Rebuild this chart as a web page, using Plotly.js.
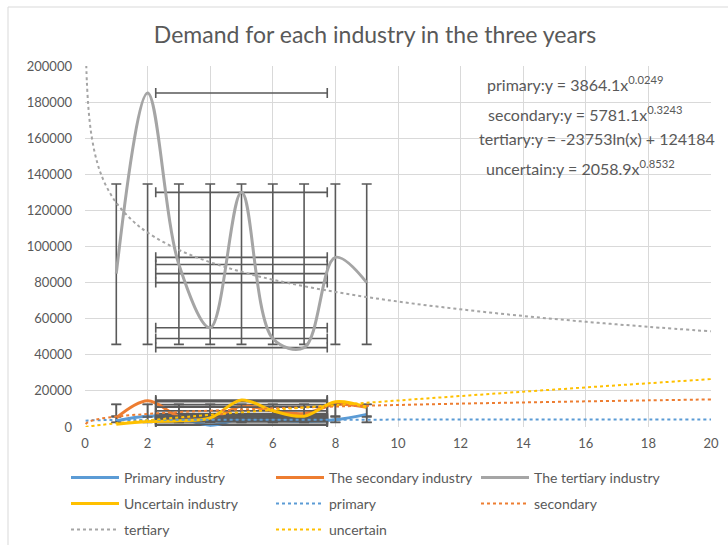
<!DOCTYPE html>
<html>
<head>
<meta charset="utf-8">
<script src="https://cdn.plot.ly/plotly-3.0.1.min.js"></script>
<style>html,body{margin:0;padding:0;background:#fff;}#chart{width:728px;height:545px;}</style>
</head>
<body>
<div id="chart"></div>
<script>
// ---- data ----
const xs = [1, 2, 3, 4, 5, 6, 7, 8, 9];
const primaryVals   = [3500, 6000, 5000, 1000, 4500, 4000, 3000, 4000, 7000];
const secondaryVals = [5000, 14500, 6000, 4500, 11500, 9000, 7500, 12500, 11000];
const tertiaryVals  = [85000, 185000, 90000, 55000, 130000, 49000, 44000, 94000, 80000];
const uncertainVals = [1500, 3000, 3500, 5000, 15000, 9000, 6000, 14000, 11000];

// error-bar extents (low, high)
const errXRange = [2.26, 7.74];
const primaryErrY   = [2500, 6000];
const secondaryErrY = [5500, 12600];
const tertiaryErrY  = [45800, 134600];
const uncertainErrY = [2600, 12500];

// trendline points
const trendXPrimary = [0.02, 0.1, 0.5, 1, 2, 4, 6, 8, 10, 12, 14, 16, 18, 20];
const trendPrimary  = [3500, 3650, 3800, 3860, 3930, 4000, 4040, 4070, 4090, 4110, 4120, 4140, 4150, 4160];
const trendXPow = [0.02, 0.1, 0.3, 0.5, 1, 2, 3, 4, 6, 8, 10, 12, 14, 16, 18, 20];
const trendSecondary = [1630, 2740, 3910, 4640, 5780, 7240, 8260, 9060, 10340, 11350, 12200, 12940, 13600, 14210, 14760, 15270];
const trendUncertain = [70, 290, 740, 1140, 2060, 3720, 5260, 6720, 9500, 12140, 14680, 17160, 19570, 21930, 24250, 26530];
const trendXTertiary = [0.04, 0.06, 0.1, 0.15, 0.2, 0.3, 0.4, 0.5, 0.7, 1, 1.5, 2, 3, 4, 5, 6, 8, 10, 12, 14, 16, 18, 20];
const trendTertiary  = [200600, 191000, 178900, 169200, 162400, 152800, 145900, 140600, 132700, 124200, 114600, 107700, 98100, 91300, 86000, 81600, 74800, 69500, 65200, 61500, 58300, 55500, 53000];

const seriesNames = ['Primary industry', 'The secondary industry', 'The tertiary industry', 'Uncertain industry'];
const trendNames = ['primary', 'secondary', 'tertiary', 'uncertain'];
const equations = [
  'primary:y = 3864.1x<sup>0.0249</sup>',
  'secondary:y = 5781.1x<sup>0.3243</sup>',
  'tertiary:y = -23753ln(x) + 124184',
  'uncertain:y = 2058.9x<sup>0.8532</sup>'
];

const colors = ['#5B9BD5', '#ED7D31', '#A5A5A5', '#FFC000'];
const errColor = '#5a5a5a';
const FONT = 'Lato, "Open Sans", sans-serif';
const textColor = '#595959';

function errY(vals, r) {
  return {type: 'data', symmetric: false,
    array: vals.map(v => r[1] - v), arrayminus: vals.map(v => v - r[0]),
    color: errColor, thickness: 1.6, width: 5};
}
function errX() {
  return {type: 'data', symmetric: false,
    array: xs.map(v => errXRange[1] - v), arrayminus: xs.map(v => v - errXRange[0]),
    color: errColor, thickness: 1.6, width: 5};
}
function series(i, vals, r, lg) {
  return {x: xs, y: vals, type: 'scatter', mode: 'lines', name: seriesNames[i], legend: lg,
    line: {color: colors[i], width: 3, shape: 'spline', smoothing: 1},
    error_y: errY(vals, r), error_x: errX()};
}
function trend(i, tx, ty, lg) {
  return {x: tx, y: ty, type: 'scatter', mode: 'lines', name: trendNames[i], legend: lg,
    line: {color: colors[i], width: 2, dash: 'dot', shape: 'spline'}};
}

const traces = [
  series(0, primaryVals, primaryErrY, 'legend'),
  series(1, secondaryVals, secondaryErrY, 'legend'),
  series(2, tertiaryVals, tertiaryErrY, 'legend'),
  series(3, uncertainVals, uncertainErrY, 'legend2'),
  trend(0, trendXPrimary, trendPrimary, 'legend2'),
  trend(1, trendXPow, trendSecondary, 'legend2'),
  trend(2, trendXTertiary, trendTertiary, 'legend3'),
  trend(3, trendXPow, trendUncertain, 'legend3')
];

const L = 85, R = 17, T = 66, B = 118, W = 728, H = 545;
const pw = W - L - R, ph = H - T - B;
const px = p => (p - L) / pw;
const py = p => (H - B - p) / ph;
const cx = p => p / W;
const cy = p => 1 - p / H;

const legendBase = {orientation: 'h', xanchor: 'left', yanchor: 'middle', xref: 'container', yref: 'container',
  bgcolor: 'rgba(0,0,0,0)', font: {family: FONT, size: 14, color: textColor}, entrywidth: 142, entrywidthmode: 'pixels',
  traceorder: 'normal', itemwidth: 48};

const eqPos = [[575, 84], [585, 113], [597, 138], [580, 167]];

const layout = {
  width: W, height: H,
  margin: {l: L, r: R, t: T, b: B},
  paper_bgcolor: '#ffffff', plot_bgcolor: '#ffffff',
  font: {family: FONT, color: textColor, size: 13},
  title: {text: 'Demand for each industry in the three years', font: {family: FONT, size: 23, color: textColor},
    x: px(375), xref: 'paper', xanchor: 'center', y: 1 - 35 / H, yref: 'container', yanchor: 'middle'},
  xaxis: {range: [0, 20], dtick: 2, tick0: 0, showgrid: true, gridcolor: '#d9d9d9', gridwidth: 1,
    zeroline: false, showline: false, ticks: '', ticklabelstandoff: 7, tickfont: {family: FONT, size: 13, color: textColor}, fixedrange: true},
  yaxis: {range: [0, 200000], dtick: 20000, tick0: 0, tickformat: 'd', showgrid: true, gridcolor: '#d9d9d9', gridwidth: 1,
    zeroline: false, showline: false, ticks: '', ticklabelstandoff: 12, tickfont: {family: FONT, size: 13, color: textColor}, fixedrange: true},
  showlegend: true,
  legend: Object.assign({}, legendBase, {x: cx(66), y: cy(478)}),
  legend2: Object.assign({}, legendBase, {x: cx(66), y: cy(504)}),
  legend3: Object.assign({}, legendBase, {x: cx(66), y: cy(530)}),
  annotations: equations.map((t, i) => ({text: t, xref: 'paper', yref: 'paper', x: px(eqPos[i][0]), y: py(eqPos[i][1]),
    xanchor: 'center', yanchor: 'middle', showarrow: false, font: {family: FONT, size: 16, color: textColor}})),
  shapes: [{type: 'rect', xref: 'paper', yref: 'paper', x0: px(8), x1: px(760), y0: py(600), y1: py(7),
    line: {color: '#d9d9d9', width: 1}, fillcolor: 'rgba(0,0,0,0)', layer: 'below'}]
};

Plotly.newPlot('chart', traces, layout, {displayModeBar: false, staticPlot: true});
</script>
</body>
</html>
